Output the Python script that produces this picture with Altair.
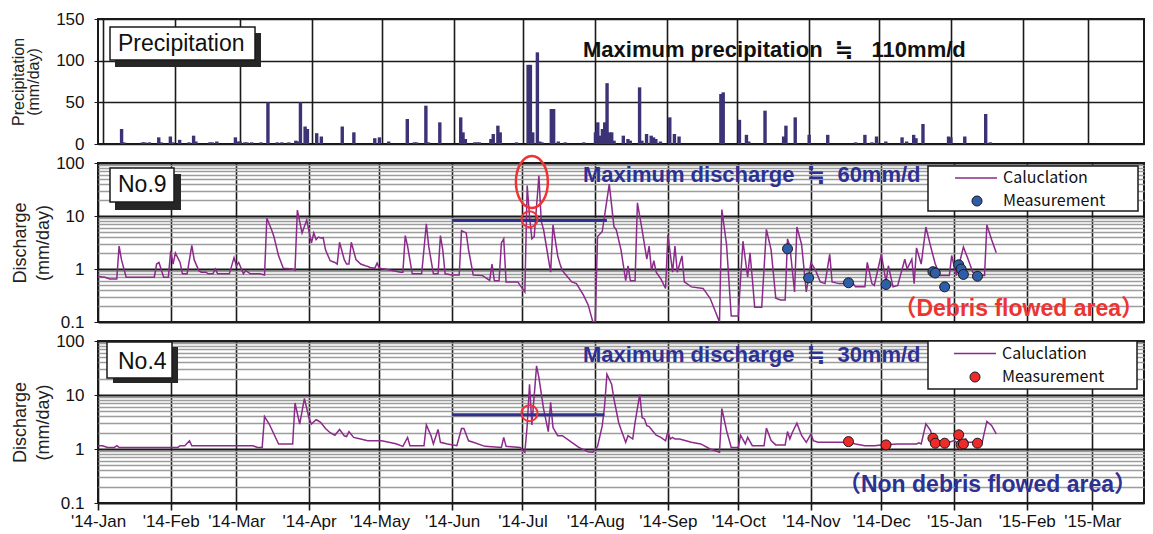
import altair as alt
import pandas as pd

START = "2014-01-01"

# ---------------- data (day offset from 2014-01-01, value) ----------------
precip = [(8, 18), (9, 2), (17, 2), (18, 2), (20, 2), (24, 8), (25, 2), (29, 9), (30, 2), (33, 5),
          (37, 2), (39, 10), (40, 3), (46, 2), (47, 2), (49, 3), (57, 8), (58, 3), (59, 3), (61, 2),
          (62, 2), (64, 2), (68, 2), (71, 50), (75, 2), (77, 2), (80, 2), (83, 4), (84, 3), (85, 50),
          (87, 21), (88, 18), (92, 13), (94, 9), (103, 21), (108, 14), (117, 7), (119, 8), (123, 3),
          (131, 30), (134, 2), (135, 2), (139, 46), (140, 2), (145, 26), (154, 32), (155, 14), (156, 6),
          (160, 2), (161, 2), (162, 2), (167, 6), (168, 12), (170, 22), (171, 14), (178, 2), (183, 95),
          (184, 95), (185, 14), (187, 110), (188, 3), (189, 2), (193, 42), (194, 42), (196, 3), (199, 2),
          (207, 2), (212, 14), (213, 26), (214, 10), (215, 18), (216, 26), (217, 73), (218, 14), (219, 14),
          (220, 4), (224, 10), (226, 6), (227, 4), (231, 68), (232, 4), (234, 12), (236, 10), (237, 8),
          (238, 6), (240, 3), (244, 32), (246, 12), (248, 9), (266, 60), (267, 62), (274, 29), (277, 11),
          (278, 3), (285, 40), (293, 9), (294, 22), (298, 32), (304, 11), (312, 11), (324, 2),
          (328, 11), (331, 2), (333, 9), (337, 3), (344, 8), (346, 3), (349, 11), (350, 7), (353, 24),
          (364, 9), (365, 8), (371, 9), (380, 36), (382, 2)]

no9_calc = [(0, 0.72), (3, 0.70), (5, 0.65), (8, 0.65), (9, 2.7), (10, 1.5), (12, 0.70), (24, 0.70),
            (25, 1.24), (26, 1.33), (28, 0.70), (30, 0.70), (31, 2.2), (32, 1.24), (33, 2.0), (35, 1.33),
            (36, 0.81), (38, 0.81), (40, 2.8), (41, 1.5), (43, 0.93), (44, 0.87), (46, 0.87), (47, 0.81),
            (49, 0.81), (50, 1.0), (51, 0.81), (56, 0.81), (58, 1.64), (59, 1.15), (60, 1.33), (62, 0.81),
            (63, 0.93), (65, 0.81), (69, 0.81), (71, 0.77), (72, 9.1), (74, 5.5), (75, 4.1), (76, 2.7),
            (77, 1.77), (79, 1.03), (83, 1.0), (84, 0.95), (85, 12.9), (87, 4.8), (89, 8.4), (91, 3.1),
            (92, 4.8), (93, 3.6), (94, 4.0), (95, 3.85), (96, 3.9), (97, 2.3), (99, 1.43), (101, 1.33),
            (102, 1.24), (103, 3.2), (105, 1.5), (106, 1.24), (107, 1.24), (108, 3.2), (110, 1.5),
            (112, 1.24), (114, 1.15), (115, 1.12), (116, 1.07), (118, 1.03), (119, 1.29), (120, 1.03),
            (122, 1.0), (126, 0.93), (129, 0.87), (130, 0.87), (131, 4.26), (132, 2.7), (134, 0.81),
            (138, 0.81), (140, 7.1), (141, 2.7), (143, 0.81), (145, 0.81), (146, 4.26), (147, 2.3),
            (148, 0.81), (151, 0.77), (154, 0.77), (155, 5.3), (157, 4.8), (158, 2.3), (160, 0.77),
            (164, 0.75), (167, 0.61), (168, 1.24), (169, 0.60), (171, 0.60), (172, 3.1), (173, 3.7),
            (174, 0.57), (179, 0.57), (180, 0.49), (182, 0.37), (183, 37.6), (184, 9.7), (185, 3.7),
            (186, 4.1), (188, 57.6), (189, 7.9), (190, 5.5), (193, 0.87), (194, 6.8), (196, 1.77),
            (197, 1.24), (198, 0.93), (200, 0.73), (202, 0.57), (204, 0.53), (207, 0.32), (209, 0.21),
            (211, 0.1), (212, 0.1), (213, 4.1), (215, 5.1), (218, 40), (220, 6.3), (221, 5.5), (223, 2.3),
            (225, 0.60), (226, 1.15), (227, 0.60), (229, 0.60), (230, 17.7), (232, 5.5), (234, 1.53),
            (235, 2.7), (236, 0.93), (237, 1.43), (238, 0.87), (240, 0.65), (242, 0.43), (243, 4.4),
            (245, 0.87), (246, 2.7), (247, 0.87), (249, 1.77), (250, 0.57), (253, 0.46), (258, 0.43),
            (261, 0.28), (265, 0.1), (266, 13.2), (268, 2.9), (270, 0.13), (273, 0.13), (275, 3.35),
            (277, 0.70), (278, 2.03), (279, 0.65), (280, 0.19), (283, 0.19), (285, 5.6), (287, 2.3),
            (289, 0.28), (291, 0.26), (293, 0.26), (294, 3.7), (295, 2.7), (297, 0.37), (298, 6.2),
            (300, 2.9), (302, 0.37), (303, 0.70), (304, 1.33), (306, 0.93), (308, 0.57), (310, 0.53),
            (312, 1.9), (313, 0.57), (316, 0.53), (320, 0.53), (322, 0.53), (323, 0.46), (327, 0.46),
            (328, 1.33), (330, 0.53), (331, 0.49), (334, 1.9), (336, 0.57), (337, 1.15), (339, 0.46),
            (341, 0.49), (344, 1.53), (345, 1.0), (347, 1.53), (348, 0.53), (349, 2.5), (351, 1.24),
            (353, 6.2), (355, 2.7), (357, 1.24), (359, 0.75), (363, 0.75), (364, 1.8), (365, 1.15),
            (366, 0.75), (369, 2.6), (371, 1.53), (373, 0.87), (376, 0.75), (378, 0.75), (379, 6.8),
            (381, 3.6), (383, 2.03)]

no4_calc = [(0, 1.15), (2, 1.15), (4, 1.07), (7, 1.07), (8, 1.15), (9, 1.07), (31, 1.07), (34, 1.07),
            (35, 1.15), (37, 1.15), (39, 1.42), (40, 1.15), (58, 1.15), (66, 1.15), (68, 1.07), (70, 1.07),
            (71, 4.0), (73, 2.9), (75, 1.9), (77, 1.24), (83, 1.24), (84, 7.1), (86, 2.9), (88, 8.6),
            (90, 3.7), (91, 2.9), (93, 3.5), (94, 3.3), (95, 3.1), (97, 2.4), (99, 2.0), (101, 1.8),
            (103, 2.3), (105, 1.76), (106, 1.7), (107, 2.1), (109, 1.64), (112, 1.53), (115, 1.42),
            (121, 1.42), (124, 1.33), (127, 1.25), (130, 1.12), (132, 1.64), (133, 1.15), (139, 1.15),
            (140, 2.8), (142, 1.76), (143, 1.24), (145, 2.3), (146, 1.33), (149, 1.24), (153, 1.15),
            (155, 2.4), (156, 2.4), (158, 1.42), (160, 1.33), (165, 1.12), (172, 1.07), (173, 1.64),
            (174, 1.12), (180, 1.07), (182, 0.87), (183, 2.7), (184, 15.8), (185, 2.8), (187, 34.6),
            (188, 21), (190, 5.5), (192, 2.1), (193, 7.3), (194, 2.5), (196, 1.76), (198, 1.76),
            (202, 1.33), (205, 1.07), (209, 0.89), (211, 0.87), (213, 1.12), (215, 2.7), (216, 6.3),
            (217, 24.2), (219, 15.8), (220, 8.4), (222, 3.1), (223, 2.3), (225, 1.33), (226, 1.76),
            (228, 1.53), (229, 3.1), (231, 10.3), (232, 3.8), (233, 3.6), (234, 2.7), (235, 2.6),
            (236, 2.3), (238, 1.8), (240, 1.64), (242, 1.42), (243, 2.1), (244, 1.53), (245, 1.64),
            (246, 1.53), (248, 1.53), (253, 1.33), (257, 1.24), (261, 1.0), (265, 0.87), (266, 5.6),
            (268, 2.2), (270, 1.07), (273, 1.07), (274, 1.8), (276, 1.24), (277, 1.64), (279, 1.15),
            (284, 1.15), (285, 2.44), (287, 1.43), (289, 1.19), (293, 1.19), (294, 2.1), (295, 1.54),
            (296, 2.0), (298, 3.0), (300, 1.78), (302, 1.33), (304, 1.9), (305, 1.43), (307, 1.33),
            (314, 1.33), (320, 1.33), (323, 1.24), (327, 1.15), (331, 1.15), (334, 1.19), (341, 1.24),
            (349, 1.24), (350, 1.3), (351, 1.24), (353, 2.94), (355, 2.2), (356, 1.43), (359, 1.33),
            (363, 1.33), (365, 1.43), (367, 1.24), (368, 1.33), (370, 1.54), (371, 1.33), (377, 1.33),
            (379, 3.25), (381, 2.74), (383, 1.9)]

no9_meas = [(294, 2.4), (303, 0.68), (320, 0.55), (336, 0.51), (356, 0.89), (357, 0.84), (361, 0.46),
            (367, 1.2), (368, 1.0), (369, 0.79), (375, 0.73)]
no4_meas = [(320, 1.37), (336, 1.19), (356, 1.58), (357, 1.28), (361, 1.28), (367, 1.83), (368, 1.2),
            (369, 1.24), (375, 1.28)]

month_ticks = [(2014, m) for m in range(1, 13)] + [(2015, 1), (2015, 2), (2015, 3)]
precip_ticks = [0, 50, 100, 150]
log_ticks = [0.1, 0.2, 0.3, 0.4, 0.5, 0.6, 0.7, 0.8, 0.9, 1, 2, 3, 4, 5, 6, 7, 8, 9,
             10, 20, 30, 40, 50, 60, 70, 80, 90, 100]

# highlighted maximum-discharge markers
no9_band = {"start": ["2014-06-01"], "end": ["2014-08-06"], "q": [8.2]}
no4_band = {"start": ["2014-06-01"], "end": ["2014-08-05"], "q": [4.3]}
no9_small = {"date": ["2014-07-04"], "q": [8.7]}
no9_big = {"date": ["2014-07-05"], "q": [44]}
no4_small = {"date": ["2014-07-04"], "q": [4.6]}

# ---------------- helpers ----------------
def frame(pairs, col):
    base = pd.Timestamp(START)
    return pd.DataFrame({
        "date": [(base + pd.Timedelta(days=d)).strftime("%Y-%m-%d") for d, _ in pairs],
        col: [v for _, v in pairs],
    })

FONT = "Liberation Sans, Arial, DejaVu Sans, 'Noto Sans CJK JP', sans-serif"
LEG_FONT = "'Noto Sans CJK JP', Liberation Sans, sans-serif"
PURPLE = "#8b2a8b"
BAR = "#3b3375"
NAVY = "#2e3192"
RED = "#ee3333"
INK = "#1a1a1a"
W = 1046
SP = "\u00a0"

XSC = alt.Scale(type="utc", domain=[alt.DateTime(year=2014, month=1, date=1, utc=True),
                                    alt.DateTime(year=2015, month=3, date=23, utc=True)])
MONTHS = [alt.DateTime(year=y, month=m, date=1, utc=True) for y, m in month_ticks]


def xaxis(show):
    kw = dict(values=MONTHS, grid=True, gridColor=INK, gridWidth=1.6, domain=False, title=None,
              labels=show, ticks=show)
    if show:
        kw.update(labelExpr="utcFormat(datum.value, \"'%y-%b\")", labelFontSize=17, labelColor="#111",
                  labelPadding=3, labelOverlap=False, labelBound=False, labelFlush=False,
                  tickSize=7, tickColor=INK, tickWidth=1.6)
    return alt.Axis(**kw)


PSC = alt.Scale(domain=[0, 150], nice=False)
P_AXIS = alt.Axis(values=precip_ticks, grid=True, gridColor=INK, gridWidth=1.6, domain=False,
                  tickSize=4, tickColor=INK, labelFontSize=17, labelPadding=10, labelColor="#111",
                  title=["Precipitation", "(mm/day)"], titleFontSize=16, titleLineHeight=15,
                  titleFontWeight="normal", titleColor="#222", titlePadding=14)

LSC = alt.Scale(type="log", domain=[0.1, 100], nice=False)
MAJOR = "datum.value == 0.1 || datum.value == 1 || datum.value == 10 || datum.value == 100"
L_AXIS = alt.Axis(values=log_ticks, grid=True,
                  gridColor={"condition": {"test": MAJOR, "value": INK}, "value": "#9c9c9c"},
                  gridWidth={"condition": {"test": MAJOR, "value": 1.8}, "value": 1.5},
                  domain=False, tickSize=4, tickColor=INK,
                  tickOpacity={"condition": {"test": MAJOR, "value": 1}, "value": 0},
                  labelExpr="datum.value == 0.1 ? '0.1' : datum.value == 1 ? '1' : datum.value == 10 ? '10' : datum.value == 100 ? '100' : ''",
                  labelOverlap=False, labelFontSize=17, labelPadding=10, labelColor="#111",
                  title=["Discharge", "(mm/day)"], titleFontSize=18, titleLineHeight=23,
                  titleFontWeight="normal", titleColor="#222", titlePadding=3)

ONE = pd.DataFrame({"k": [0]})


def rect(x1, x2, y1, y2, **style):
    return alt.Chart(ONE).mark_rect(**style).encode(
        x=alt.value(x1), x2=alt.value(x2), y=alt.value(y1), y2=alt.value(y2))


def label(text, x, y, **style):
    return alt.Chart(ONE).mark_text(text=text, **style).encode(x=alt.value(x), y=alt.value(y))


def name_box(text, box, shadow, tx, ty):
    return [rect(*shadow, color="#262626"),
            rect(*box, fill="white", stroke=INK, strokeWidth=1.5),
            label(text, tx, ty, font=FONT, fontSize=23, align="left", baseline="middle", color="#111")]


def legend(box, line_y, dot_y, dot_color, line_x=(857, 899), dot_x=879, text_x=905):
    return [rect(*box, fill="white", stroke=INK, strokeWidth=1.5),
            alt.Chart(ONE).mark_rule(color=PURPLE, strokeWidth=1.5).encode(
                x=alt.value(line_x[0]), x2=alt.value(line_x[1]), y=alt.value(line_y)),
            alt.Chart(ONE).mark_circle(size=100, color=dot_color, stroke=INK, strokeWidth=1, opacity=1).encode(
                x=alt.value(dot_x), y=alt.value(dot_y)),
            label("Caluclation", text_x, line_y, font=LEG_FONT, fontSize=16, align="left", baseline="middle", color="#111"),
            label("Measurement", text_x, dot_y, font=LEG_FONT, fontSize=16, align="left", baseline="middle", color="#111")]


def discharge_panel(calc, meas, meas_color, band, small, big, show_x, height, texts, box, shadow, ty, leg):
    xq = lambda f="date": alt.X(f"{f}:T", scale=XSC, axis=xaxis(show_x))
    yq = alt.Y("q:Q", scale=LSC, axis=L_AXIS)
    line = alt.Chart(frame(calc, "q")).mark_line(color=PURPLE, strokeWidth=1.5, clip=True).encode(x=xq(), y=yq)
    pts = alt.Chart(frame(meas, "q")).mark_circle(size=100, color=meas_color, stroke=INK, strokeWidth=1,
                                                   opacity=1).encode(x=xq(), y=yq)
    rule = alt.Chart(pd.DataFrame(band)).mark_rule(color=NAVY, strokeWidth=3).encode(
        x=xq("start"), x2="end:T", y=yq)
    layers = [line, rule]
    layers.append(alt.Chart(pd.DataFrame(small)).mark_point(shape="circle", size=256, filled=False, color=RED,
                                                           strokeWidth=2, opacity=1).encode(x=xq(), y=yq))
    if big is not None:
        ell = "M -0.615 0 A 0.615 1 0 1 0 0.615 0 A 0.615 1 0 1 0 -0.615 0 Z"
        layers.append(alt.Chart(pd.DataFrame(big)).mark_point(shape=ell, size=2704, filled=False, color=RED,
                                                             strokeWidth=2.5, opacity=1).encode(x=xq(), y=yq))
    layers.append(pts)
    layers += name_box(texts[0], box, shadow, 20, ty)
    layers.append(label(texts[1], 485, texts[2], font=FONT, fontSize=22, fontWeight="bold", align="left",
                        baseline="alphabetic", color=NAVY))
    layers.append(label(texts[3], texts[4], texts[5], font=FONT, fontSize=23, fontWeight="bold", align="right",
                        baseline="alphabetic", color=texts[6]))
    layers += leg
    return alt.layer(*layers).properties(width=W, height=height)


# ---------------- panels ----------------
bars = alt.Chart(frame(precip, "p")).mark_bar(size=3.4, color=BAR).encode(
    x=alt.X("date:T", scale=XSC, axis=xaxis(False)),
    y=alt.Y("p:Q", scale=PSC, axis=P_AXIS))
precip_panel = alt.layer(
    bars,
    *name_box("Precipitation", (12, 157, 8, 41), (17, 163, 14, 48), 20, 24.5),
    label(f"Maximum precipitation{SP*2}\u2252{SP*3}110mm/d", 485, 38, font=FONT, fontSize=22,
          fontWeight="bold", align="left", baseline="alphabetic", color="#111"),
).properties(width=W, height=125)

no9_panel = discharge_panel(
    no9_calc, no9_meas, "#2f5ea8", no9_band, no9_small, no9_big, False, 159,
    ("No.9", f"Maximum discharge{SP*2}\u2252{SP*2}60mm/d", 19, "\uff08Debris flowed area\uff09", 1046, 153, RED),
    (12, 76, 5, 39), (17, 83, 11, 47), 22,
    legend((830, 1040, 3, 48), 15, 38, "#2f5ea8"))

no4_panel = discharge_panel(
    no4_calc, no4_meas, "#ee2b2b", no4_band, no4_small, None, True, 162,
    ("No.4", f"Maximum discharge{SP*2}\u2252{SP*2}30mm/d", 21, "\uff08Non debris flowed area\uff09", 1039, 151, NAVY),
    (9, 74, 1, 37), (15, 80, 6, 42), 21,
    legend((830, 1039, 0, 48), 12.5, 36, "#ee2b2b", line_x=(856, 898), dot_x=877, text_x=904))

chart = alt.vconcat(precip_panel, no9_panel, no4_panel, spacing=19, bounds="flush").properties(
    padding={"left": 1, "top": 1, "right": 0, "bottom": 0}
).configure(font=FONT).configure_view(stroke=INK, strokeWidth=2)

chart.save("out.html", embed_options={"renderer": "svg", "actions": False})
